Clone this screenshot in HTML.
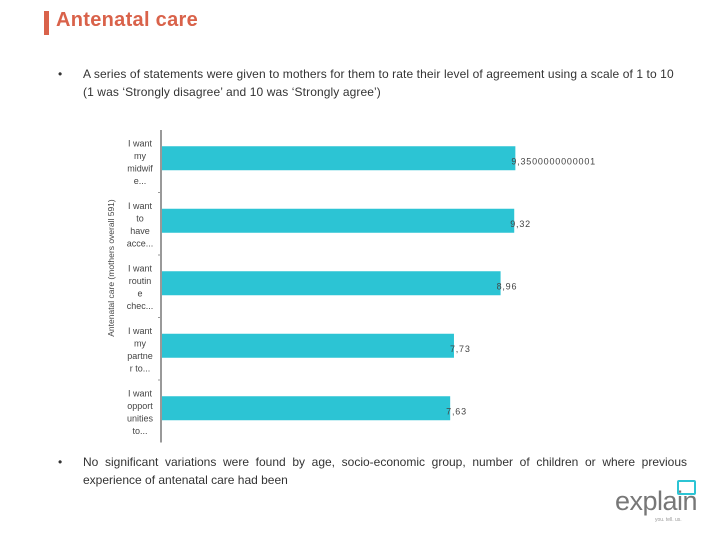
<!DOCTYPE html>
<html><head><meta charset="utf-8"><style>
body{margin:0;width:720px;height:540px;background:#fff;font-family:"Liberation Sans",sans-serif;position:relative;overflow:hidden}
.abs{position:absolute}
.txt{font-size:12px;color:#333;line-height:18px}
</style></head><body>
<div class="abs" style="left:44px;top:11px;width:5px;height:24px;background:#d9624a"></div>
<div class="abs" style="left:56px;top:9px;font-size:20px;color:#d9624a;letter-spacing:0.3px;font-weight:bold">Antenatal care</div>
<div class="abs txt" style="left:58px;top:65px">•</div>
<div class="abs txt" style="left:83px;top:65px;width:598px;letter-spacing:0.1px">A series of statements were given to mothers for them to rate their level of agreement using a scale of 1 to 10 (1 was ‘Strongly disagree’ and 10 was ‘Strongly agree’)</div>
<svg class="abs" style="left:0;top:0" width="720" height="540" id="chart"></svg>
<div class="abs txt" style="left:58px;top:453px">•</div>
<div class="abs txt" style="left:83px;top:453px;width:604px;text-align:justify;text-align-last:left">No significant variations were found by age, socio-economic group, number of children or where previous experience of antenatal care had been</div>
<div class="abs" style="left:615px;top:486px;font-size:27px;color:#777;letter-spacing:-0.5px">explain</div>
<div class="abs" style="left:677px;top:480px;width:15px;height:11px;border:2px solid #2cc4d4;border-radius:2px"></div>
<div class="abs" style="left:655px;top:517px;font-size:5px;color:#999">you. tell. us.</div>
<script>
const categories=[["I want","my","midwif","e..."],["I want","to","have","acce..."],["I want","routin","e","chec..."],["I want","my","partne","r to..."],["I want","opport","unities","to..."]];
const values=[9.3500000000001,9.32,8.96,7.73,7.63];
const valueLabels=["9,3500000000001","9,32","8,96","7,73","7,63"];
const svg=document.getElementById('chart');const NS='http://www.w3.org/2000/svg';
const x0=161,scale=37.9,top0=130,band=62.5,bh=24;
const xs=v=>x0+v*scale;
function mk(t,a){const e=document.createElementNS(NS,t);for(const k in a)e.setAttribute(k,a[k]);svg.appendChild(e);return e;}
categories.forEach((c,i)=>{
 const y=top0+i*band+(band-bh)/2-3;
 const r=mk('rect',{x:x0,y:y,width:xs(values[i])-x0,height:bh,fill:'#2cc4d4'});
 
 
 const t=mk('text',{x:xs(values[i])-4,y:y+bh/2+6,'font-size':9,fill:'#444','letter-spacing':'0.8'});
 t.textContent=valueLabels[i];
 
 
 const cy=top0+i*band+band/2-(c.length-1)*6+3;
 c.forEach((ln,j)=>{const l=mk('text',{x:140,y:cy+j*12.5,'font-size':9,fill:'#444','text-anchor':'middle'});l.textContent=ln;
 
 });
 if(i>0){const tk=mk('line',{x1:x0-3,x2:x0,y1:top0+i*band,y2:top0+i*band,stroke:'#999'});}
});
const ax=mk('line',{x1:x0,x2:x0,y1:top0,y2:top0+band*5,stroke:'#999','stroke-width':2});


const yt=mk('text',{x:0,y:0,'font-size':8.5,fill:'#444','text-anchor':'middle',transform:'translate(114,268) rotate(-90)'});
yt.textContent='Antenatal care (mothers overall 591)';


</script>
</body></html>
